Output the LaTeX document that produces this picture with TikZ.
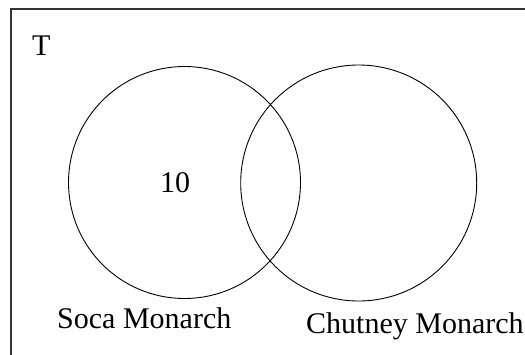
\documentclass[tikz,border=0pt]{standalone}
\usepackage{fontspec}
\setmainfont{Liberation Serif}
\usepackage{tikz}
\usetikzlibrary{positioning}
\tikzset{
  labeltext/.style={font=\fontsize{30}{32}\selectfont, inner sep=0pt, anchor=base west},
  setcircle/.style={circle, draw=black, line width=0.9pt, inner sep=0pt},
  universebox/.style={draw=black!80, line width=1.8pt}
}
\begin{document}
\begin{tikzpicture}[x=1pt, y=-1pt]

  % Page frame
  \clip (0,0) rectangle (525,354);

  % Universal set
  \draw[universebox] (11,9) rectangle (560,390);
  \node[labeltext] (uset) at (32,55) {T};

  % The two sets
  \node[setcircle, minimum size=232pt] (soca) at (184.5,182.5) {};
  \node[setcircle, minimum size=236pt] (chutney) at (358.7,183) {};

  % Count and set names
  \node[labeltext] (count) at (160,192) {10};
  \node[labeltext] (socalabel) at (57,328) {Soca Monarch};
  \node[labeltext] (chutneylabel) at (306,333) {Chutney Monarch};

\end{tikzpicture}
\end{document}
